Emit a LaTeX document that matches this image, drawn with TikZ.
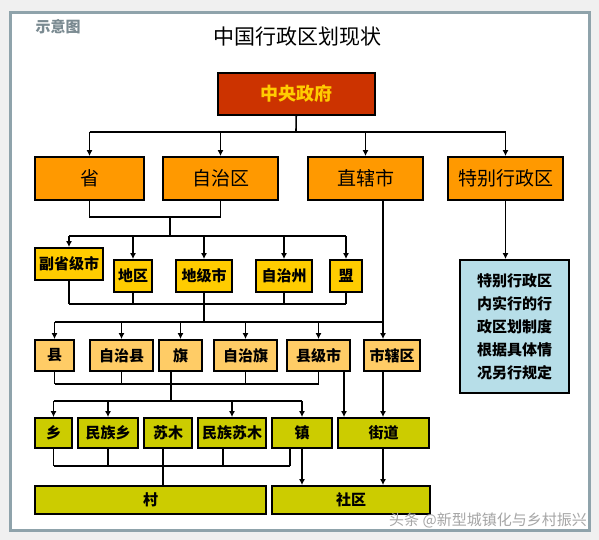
\documentclass[tikz,border=0pt]{standalone}
\usepackage{fontspec}
\setmainfont{Noto Sans CJK SC}
\usetikzlibrary{arrows.meta}
\definecolor{zentralrot}{HTML}{CC3300}
\definecolor{gelbschrift}{HTML}{FFCC00}
\definecolor{orangezwei}{HTML}{FF9900}
\definecolor{gelbdrei}{HTML}{FFCC00}
\definecolor{hellvier}{HTML}{FFCC66}
\definecolor{olivfuenf}{HTML}{CCCC00}
\definecolor{hinweisblau}{HTML}{B7DEE8}
\definecolor{rahmengrau}{HTML}{8FA3AB}
\tikzset{
  kasten/.style={draw=black, line width=1.8pt, inner sep=0pt, align=center,
    font=\fontsize{15}{18}\selectfont\bfseries},
  lin/.style={line width=1.6pt},
  pfeil/.style={line width=1.6pt, -{Latex[length=6pt,width=6pt]}},
}
\begin{document}
\begin{tikzpicture}[x=1pt,y=-1pt]
  \useasboundingbox (0,0) rectangle (599,540);
  % Rahmen
  \fill[gray!12] (0,0) rectangle (599,540);
  \fill[white] (10,13) rectangle (589,530);
  \draw[rahmengrau, line width=3pt] (10,13) rectangle (589,530);
  % Titel
  \node (titel) at (297,37) {\fontsize{21}{24}\selectfont 中国行政区划现状};
  \node[text=rahmengrau!85!black, font=\fontsize{15}{17}\selectfont\bfseries] (shiyi) at (58,27) {示意图};
  % Zentrale
  \node[kasten, fill=zentralrot, text=gelbschrift, minimum width=157, minimum height=42,
    font=\fontsize{18}{20}\selectfont\bfseries] (zentral) at (296.5,94) {中央政府};
  % Ebene 2
  \foreach \n/\x/\w/\t in {sheng/89.5/109/省, zizhiqu/220.5/115/自治区,
      zhixiashi/365.5/115/直辖市, tebie/505.5/115/特别行政区}
    \node[kasten, fill=orangezwei, minimum width=\w, minimum height=43,
      font=\fontsize{19}{21}\selectfont] (\n) at (\x,178.5) {\t};
  % Ebene 3
  \node[kasten, fill=gelbdrei, minimum width=68, minimum height=32] (fushengji) at (69,264) {副省级市};
  \foreach \n/\x/\w/\t in {diqu/133/38/地区, dijishi/204/56/地级市,
      zizhizhou/284/56/自治州, meng/346/32/盟}
    \node[kasten, fill=gelbdrei, minimum width=\w, minimum height=32] (\n) at (\x,276) {\t};
  % Ebene 4
  \foreach \n/\x/\w/\t in {xian/54.5/39/县, zizhixian/121.5/63/自治县, qi/180.5/43/旗,
      zizhiqi/245.5/63/自治旗, xianjishi/318.5/63/县级市, shixiaqu/392/56/市辖区}
    \node[kasten, fill=hellvier, minimum width=\w, minimum height=31] (\n) at (\x,355.5) {\t};
  % Ebene 5
  \foreach \n/\x/\w/\t in {xiang/53.5/37/乡, minzuxiang/108/60/民族乡, sumu/168/48/苏木,
      minzusumu/232/68/民族苏木, zhen/302/60/镇, jiedao/383.5/91/街道}
    \node[kasten, fill=olivfuenf, minimum width=\w, minimum height=30] (\n) at (\x,433) {\t};
  % Ebene 6
  \node[kasten, fill=olivfuenf, minimum width=231, minimum height=28] (cun) at (150.5,500) {村};
  \node[kasten, fill=olivfuenf, minimum width=158, minimum height=28] (shequ) at (351,500) {社区};
  % Hinweis
  \node[kasten, fill=hinweisblau, minimum width=109, minimum height=133,
    font=\fontsize{15}{23}\selectfont\bfseries] (hinweis) at (514.5,326.5)
    {特别行政区\\内实行的行\\政区划制度\\根据具体情\\况另行规定};
  % Wasserzeichen
  \node[text=gray!70, font=\fontsize{15}{17}\selectfont] (wz) at (488,520) {头条 @新型城镇化与乡村振兴};

  % Hilfspunkte
  \coordinate (k1) at (296,132);
  \coordinate (k2) at (170,217);
  \coordinate (k3) at (170,236);
  \coordinate (k4) at (204,304);
  \coordinate (k5) at (204,322);
  \coordinate (k6) at (171,384);
  \coordinate (k7) at (171,401);
  \coordinate (k8) at (163,466);
  \coordinate (zx) at (383,0);
  \coordinate (xj) at (344,0);
  \coordinate (ms) at (223,0);
  \coordinate (zb) at (290,0);

  % Zentrale -> Ebene 2
  \draw[lin] (zentral) -- (k1);
  \draw[lin] (k1 -| sheng) -- (k1 -| tebie);
  \foreach \n in {sheng,zizhiqu,zhixiashi,tebie}
    \draw[pfeil] (k1 -| \n) -- (\n);
  \draw[pfeil] (tebie) -- (hinweis.north -| tebie);
  % Ebene 2 -> Ebene 3
  \draw[lin] (sheng) |- (k2 -| zizhiqu) -- (zizhiqu);
  \draw[lin] (k2) -- (k3);
  \draw[lin] (k3 -| fushengji) -- (k3 -| meng);
  \foreach \n in {fushengji,diqu,dijishi,zizhizhou,meng}
    \draw[pfeil] (k3 -| \n) -- (\n);
  % Ebene 3 -> Ebene 4
  \foreach \n in {fushengji,diqu,dijishi,zizhizhou,meng}
    \draw[lin] (\n) -- (k4 -| \n);
  \draw[lin] (k4 -| fushengji) -- (k4 -| meng);
  \draw[lin] (k4) -- (k5);
  \draw[lin] (k5 -| xian) -- (k5 -| zx);
  \foreach \n in {xian,zizhixian,qi,zizhiqi,xianjishi}
    \draw[pfeil] (k5 -| \n) -- (\n);
  \draw[pfeil] (zhixiashi.south -| zx) -- (shixiaqu.north -| zx);
  % Ebene 4 -> Ebene 5
  \foreach \n in {xian,zizhixian,zizhiqi,xianjishi}
    \draw[lin] (\n) -- (k6 -| \n);
  \draw[lin] (k6 -| xian) -- (k6 -| xianjishi);
  \draw[lin] (qi.south -| k6) -- (k7);
  \draw[lin] (k7 -| xiang) -- (k7 -| zhen);
  \foreach \n in {xiang,minzuxiang,minzusumu,zhen}
    \draw[pfeil] (k7 -| \n) -- (\n);
  \draw[pfeil] (xianjishi.south -| xj) -- (jiedao.north -| xj);
  \draw[pfeil] (shixiaqu.south -| zx) -- (jiedao.north -| zx);
  % Ebene 5 -> Ebene 6
  \draw[lin] (xiang) -- (k8 -| xiang);
  \draw[lin] (minzuxiang) -- (k8 -| minzuxiang);
  \draw[lin] (minzusumu.south -| ms) -- (k8 -| ms);
  \draw[lin] (zhen.south -| zb) -- (k8 -| zb);
  \draw[lin] (k8 -| xiang) -- (k8 -| zb);
  \draw[lin] (sumu.south -| k8) -- (cun.north -| k8);
  \draw[pfeil] (zhen) -- (shequ.north -| zhen);
  \draw[pfeil] (jiedao.south -| zx) -- (shequ.north -| zx);
\end{tikzpicture}
\end{document}
